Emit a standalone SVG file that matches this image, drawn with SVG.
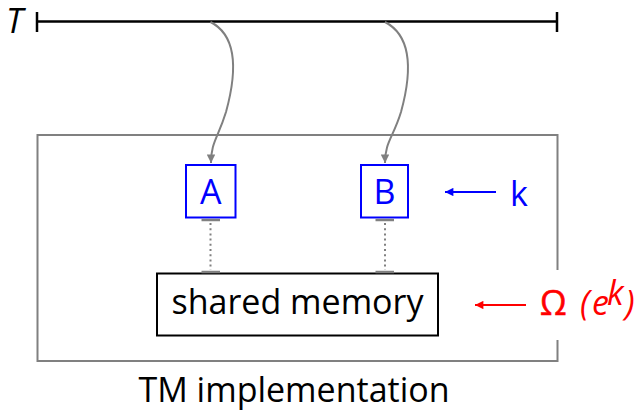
<svg xmlns="http://www.w3.org/2000/svg" width="643" height="410" viewBox="0 0 643 410">
<defs>
<style>
text{font-family:"Open Sans","Noto Sans",sans-serif;font-size:34px}
.gray{stroke:#808080;stroke-width:2;fill:none}
.blue{fill:#0000ff}
.red{fill:#ff0000}
</style>
<marker id="ag" viewBox="0 0 10 10" refX="10" refY="5" markerWidth="5.5" markerHeight="4.2" markerUnits="strokeWidth" orient="auto"><path d="M0,0 L10,5 L0,10 z" fill="#808080"/></marker>
<marker id="ab" viewBox="0 0 10 10" refX="10" refY="5" markerWidth="6" markerHeight="4.2" markerUnits="strokeWidth" orient="auto"><path d="M0,0 L10,5 L0,10 z" fill="#0000ff"/></marker>
<marker id="ar" viewBox="0 0 10 10" refX="10" refY="5" markerWidth="6" markerHeight="4.2" markerUnits="strokeWidth" orient="auto"><path d="M0,0 L10,5 L0,10 z" fill="#ff0000"/></marker>
</defs>
<rect width="643" height="410" fill="#fff"/>

<g id="timeline">
<text x="6" y="33" font-style="italic">T</text>
<line x1="37" y1="21.5" x2="557" y2="21.5" stroke="#000" stroke-width="2.5"/>
<line x1="37" y1="12" x2="37" y2="32" stroke="#000" stroke-width="2.5"/>
<line x1="557" y1="12" x2="557" y2="32" stroke="#000" stroke-width="2.5"/>
</g>

<g id="tm-implementation">
<path class="gray" d="M557.5,270 V135 H37.5 V361 H557.5 V340"/>
<text x="294" y="401.5" text-anchor="middle">TM implementation</text>
</g>

<g id="node-A">
<rect x="186" y="165" width="49.5" height="52.5" fill="#fff" stroke="#0000ff" stroke-width="2"/>
<text class="blue" x="210.8" y="204" text-anchor="middle">A</text>
</g>

<g id="node-B">
<rect x="361" y="165" width="47" height="52.5" fill="#fff" stroke="#0000ff" stroke-width="2"/>
<text class="blue" x="384.5" y="204" text-anchor="middle">B</text>
</g>

<g id="shared-memory">
<rect x="157" y="273.5" width="281" height="62" fill="#fff" stroke="#000" stroke-width="2"/>
<text x="297.5" y="314" text-anchor="middle">shared memory</text>
</g>

<g id="label-k">
<text class="blue" x="510" y="205.5">k</text>
</g>

<g id="label-omega">
<text class="red" x="540" y="315" font-size="36" stroke="#ff0000" stroke-width="0.6">Ω</text>
<text class="red" x="580" y="315" font-style="italic">(</text>
<text class="red" x="592" y="315" font-style="italic">e</text>
<text class="red" x="607" y="305" font-style="italic" font-size="24">k</text>
<text class="red" x="625" y="315" font-style="italic">)</text>
</g>

<g id="connectors">
<path class="gray" d="M210.5,22 C238,36 237,72 226,112 C218,138 211,142 211,163" marker-end="url(#ag)"/>
<path class="gray" d="M385,22 C412,36 412,72 401,112 C393,138 385,142 385,163" marker-end="url(#ag)"/>
<line x1="210.5" y1="223" x2="210.5" y2="270" stroke="#808080" stroke-width="2" stroke-dasharray="2 3.2"/>
<line x1="385" y1="223" x2="385" y2="270" stroke="#808080" stroke-width="2" stroke-dasharray="2 3.2"/>
<line x1="201.5" y1="220" x2="220" y2="220" stroke="#808080" stroke-width="2.5"/>
<line x1="201.5" y1="272" x2="220" y2="272" stroke="#808080" stroke-width="2.5"/>
<line x1="375.5" y1="220" x2="394" y2="220" stroke="#808080" stroke-width="2.5"/>
<line x1="375.5" y1="272" x2="394" y2="272" stroke="#808080" stroke-width="2.5"/>
<line x1="496" y1="192" x2="445" y2="192" stroke="#0000ff" stroke-width="2" marker-end="url(#ab)"/>
<line x1="526" y1="305" x2="475" y2="305" stroke="#ff0000" stroke-width="2" marker-end="url(#ar)"/>
</g>
</svg>
